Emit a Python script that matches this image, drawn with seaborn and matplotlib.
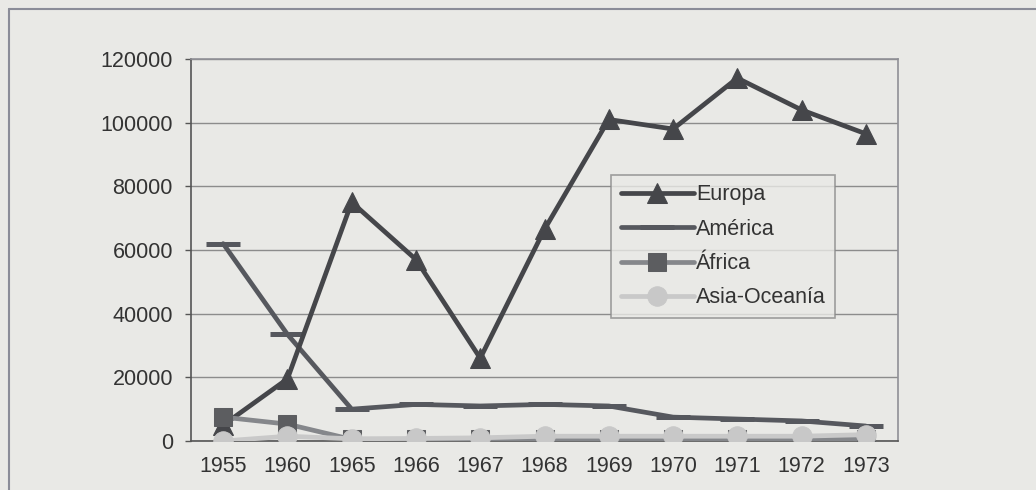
import numpy as np
import pandas as pd
import seaborn as sns
import matplotlib.pyplot as plt
from matplotlib.lines import Line2D
from matplotlib.ticker import FixedLocator

# Datos
anios = ["1955", "1960", "1965", "1966", "1967", "1968", "1969", "1970", "1971", "1972", "1973"]
europa = [5000, 19500, 75000, 57000, 26000, 66500, 101000, 98000, 114000, 104000, 96500]
america = [62000, 33500, 10000, 11500, 11000, 11500, 11000, 7500, 6900, 6300, 4700]
africa = [7500, 5300, 500, 500, 500, 500, 500, 500, 500, np.nan, 500]
asia = [0, 1500, 700, 800, 1000, 1500, 1500, 1500, 1500, 1500, 2000]

df = pd.DataFrame({"Año": anios, "Europa": europa, "América": america,
                   "África": africa, "Asia-Oceanía": asia})
df["pos"] = np.arange(len(anios))

sns.set_style("white")
plt.rcParams["font.family"] = ["Liberation Sans", "DejaVu Sans"]
fondo = "#e9e9e6"

fig = plt.figure(figsize=(10.36, 4.9), dpi=100, facecolor=fondo)
ax = fig.add_axes([0.1844, 0.1, 0.6824, 0.7796])
ax.set_facecolor(fondo)

# Orden de dibujo: la serie clara queda encima
sns.lineplot(data=df, x="pos", y="América", ax=ax, color="#56585e", lw=3.4,
             marker="_", markersize=24, markeredgewidth=3.6, markeredgecolor="#56585e",
             label="América", zorder=3)
sns.lineplot(data=df, x="pos", y="Europa", ax=ax, color="#45464a", lw=3.4,
             marker="^", markersize=14, markeredgecolor="#45464a",
             label="Europa", zorder=4)
sns.lineplot(data=df, x="pos", y="África", ax=ax, color="#85878b", lw=3.4,
             marker="s", markersize=13, markerfacecolor="#5c5d60", markeredgecolor="#5c5d60",
             label="África", zorder=5)
sns.lineplot(data=df, x="pos", y="Asia-Oceanía", ax=ax, color="#c9c9c9", lw=3.4,
             marker="o", markersize=14, markerfacecolor="#c8c8c8", markeredgecolor="#c8c8c8",
             label="Asia-Oceanía", zorder=6)

ax.set_xlim(-0.5, len(anios) - 0.5)
ax.set_ylim(0, 120000)
ax.set_xticks(df["pos"])
ax.set_xticklabels(anios)
ax.xaxis.set_minor_locator(FixedLocator(np.arange(0.5, len(anios) - 0.5, 1)))
ax.set_yticks(np.arange(0, 120001, 20000))
ax.set_xlabel("")
ax.set_ylabel("")
ax.tick_params(axis="x", which="major", length=0, pad=11, labelsize=15.5, labelcolor="#333333")
ax.tick_params(axis="x", which="minor", length=5, width=1, color="#777777", direction="out")
ax.tick_params(axis="y", length=4.5, width=1, color="#555555", pad=8.5, labelsize=15.5,
               labelcolor="#333333", left=True)

ax.grid(axis="y", color="#8c8c8c", lw=1)
ax.set_axisbelow(True)
for lado in ["top", "right"]:
    ax.spines[lado].set_color("#909096")
    ax.spines[lado].set_linewidth(1.2)
ax.spines["left"].set_color("#555555")
ax.spines["bottom"].set_color("#555555")
ax.spines["left"].set_linewidth(1.2)
ax.spines["bottom"].set_linewidth(1.2)

# Leyenda en el orden original
h, l = ax.get_legend_handles_labels()
orden = ["Europa", "América", "África", "Asia-Oceanía"]
h = [h[l.index(n)] for n in orden]
leg = ax.legend(h, orden, loc="upper left", bbox_to_anchor=(0.594, 0.697),
                fontsize=15.5, frameon=True, fancybox=False, facecolor=fondo,
                edgecolor="#8a8a8a", handlelength=3.4, handletextpad=0.1,
                labelspacing=0.62, borderpad=0.45, borderaxespad=0)
leg.get_frame().set_linewidth(1.2)
for t in leg.get_texts():
    t.set_color("#333333")

# Marco exterior del escaneo
fig.add_artist(Line2D([9 / 1036, 1], [1 - 9 / 490, 1 - 9 / 490], color="#8a8c98", lw=1.5))
fig.add_artist(Line2D([9 / 1036, 9 / 1036], [0, 1 - 9 / 490], color="#8a8c98", lw=1.5))

fig.savefig("out.png", dpi=100, facecolor=fondo)
